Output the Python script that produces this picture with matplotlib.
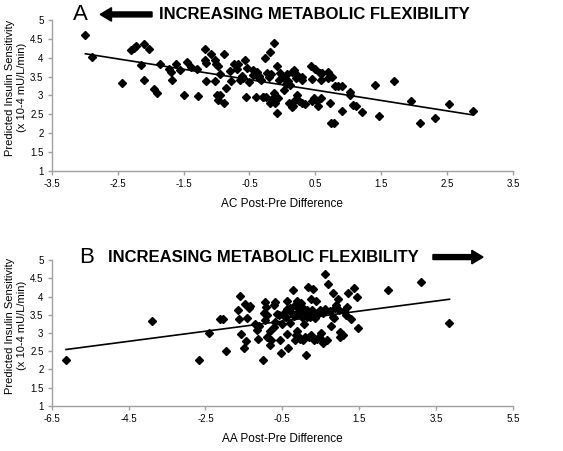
import numpy as np
import matplotlib
matplotlib.use("Agg")
import matplotlib.pyplot as plt

plt.rcParams["font.family"] = ["Liberation Sans", "DejaVu Sans"]

# panel A: AC post-pre difference vs predicted insulin sensitivity
ac_x = [-2.99, -2.89, -2.44, -2.29, -2.25, -2.22, -2.10, -2.02, -2.15, -2.10,
        -1.95, -1.91, -1.85, -1.72, -1.69, -1.67, -1.61, -1.55, -1.50, -1.45,
        -1.39, -1.28, -1.17, -1.17, -1.16, -1.16, -1.08, -1.02, -1.01, -1.02,
        -0.98, -0.99, -0.97, -0.94, -0.94, -0.89, -0.88, -0.86, -0.78, -0.73,
        -0.69, -0.68, -0.64, -0.61, -0.56, -0.55, -0.53, -0.51, -0.44, -0.40,
        -0.39, -0.36, -0.33, -0.30, -0.26, -0.25, -0.23, -0.19, -0.19, -0.17,
        -0.13, -0.13, -0.11, -0.08, -0.08, -0.06, -0.03, 0.02, 0.03, 0.07,
        0.09, 0.10, 0.12, 0.14, 0.16, 0.17, 0.19, 0.22, 0.23, 0.30,
        0.30, 0.30, 0.43, 0.45, 0.48, 0.50, 0.52, 0.54, 0.57, 0.58,
        0.58, 0.70, 0.70, 0.72, 0.74, 0.75, 0.78, 0.80, 0.85, 0.91,
        0.91, 1.03, 1.03, 1.07, 1.12, 1.21, 1.41, 1.46, 1.70, 1.96,
        2.09, 2.32, 2.53, 2.89, -0.45, -0.35, -0.20, -0.05, 0.05, 0.20,
        0.25, 0.35, -0.30, -0.15, 0.45, 0.60, -0.60, -0.80, -1.30, 0.15]
ac_y = [4.61, 4.01, 3.34, 4.19, 4.25, 4.30, 4.36, 4.22, 3.80, 3.40,
        3.17, 3.06, 3.83, 3.70, 3.61, 3.41, 3.83, 3.68, 3.02, 3.88,
        3.75, 2.99, 4.22, 3.93, 3.86, 3.38, 4.09, 3.93, 3.83, 3.38,
        3.77, 3.02, 2.89, 3.02, 3.57, 2.79, 4.10, 3.20, 3.37, 3.83,
        3.70, 3.84, 3.41, 3.52, 3.94, 2.96, 3.73, 3.36, 3.66, 2.97,
        3.63, 3.52, 3.41, 2.96, 3.98, 2.96, 3.59, 4.16, 2.80, 3.57,
        4.40, 3.06, 2.80, 3.77, 2.53, 2.92, 3.59, 3.46, 3.15, 3.57,
        3.37, 2.80, 3.28, 3.63, 2.73, 3.68, 2.89, 3.55, 3.02, 3.41,
        3.50, 2.80, 3.77, 3.43, 2.93, 3.70, 2.84, 2.71, 3.59, 3.41,
        2.93, 3.61, 3.45, 2.80, 2.27, 3.48, 2.27, 3.26, 3.26, 3.26,
        2.59, 3.02, 3.08, 2.75, 2.71, 2.55, 3.28, 2.46, 3.37, 2.86,
        2.27, 2.40, 2.78, 2.58, 3.55, 3.45, 3.50, 3.40, 3.30, 3.45,
        2.85, 2.78, 2.95, 2.90, 2.85, 3.60, 3.45, 3.65, 3.70, 2.70]

# panel B: AA post-pre difference vs predicted insulin sensitivity
aa_x = [-6.13, -3.90, -2.66, -2.41, -2.11, -2.05, -1.97, -1.66, -1.63, -1.60,
        -1.57, -1.49, -1.47, -1.44, -1.42, -1.38, -1.34, -1.22, -1.15, -1.14,
        -1.01, -0.99, -0.96, -0.94, -0.92, -0.90, -0.82, -0.83, -0.79, -0.73,
        -0.71, -0.68, -0.65, -0.56, -0.53, -0.52, -0.49, -0.40, -0.37, -0.38,
        -0.37, -0.36, -0.30, -0.21, -0.18, -0.18, -0.14, -0.12, -0.11, -0.08,
        -0.06, -0.04, -0.01, 0.01, 0.03, 0.05, 0.07, 0.11, 0.13, 0.18,
        0.20, 0.22, 0.24, 0.28, 0.31, 0.33, 0.35, 0.37, 0.48, 0.52,
        0.57, 0.61, 0.65, 0.70, 0.74, 0.77, 0.81, 0.83, 0.86, 0.90,
        0.96, 0.97, 1.00, 1.04, 1.09, 1.17, 1.22, 1.28, 1.37, 1.43,
        1.48, 2.25, 3.10, 3.85, -0.25, -0.20, -0.10, 0.00, 0.10, 0.15,
        0.20, 0.30, 0.40, -0.15, -0.05, 0.10, 0.25, 0.40, 0.45, 0.50,
        -0.45, -0.60, -0.30, 0.05, 0.35, 0.55, 0.60, 1.10, 1.15, 1.00,
        0.85, -0.70, -0.90, -1.10]
aa_y = [2.27, 3.34, 2.27, 3.00, 3.38, 3.38, 2.52, 3.62, 3.38, 4.02,
        2.98, 2.58, 3.80, 2.79, 3.41, 3.69, 3.74, 3.25, 3.09, 2.85,
        2.27, 3.56, 3.36, 3.84, 3.71, 2.89, 3.07, 2.67, 2.80, 3.16,
        3.76, 3.85, 3.52, 2.80, 2.45, 3.25, 3.50, 3.43, 2.98, 3.65,
        3.89, 2.58, 3.29, 4.18, 3.76, 2.80, 3.50, 3.87, 3.05, 3.69,
        2.89, 3.52, 3.83, 3.43, 2.80, 3.56, 3.25, 2.40, 3.62, 4.27,
        2.89, 3.43, 3.94, 3.62, 4.21, 2.82, 3.50, 3.87, 3.62, 2.80,
        2.72, 4.63, 2.82, 4.36, 3.60, 3.20, 3.43, 4.09, 3.69, 3.76,
        3.94, 3.62, 3.03, 2.96, 2.94, 3.71, 4.09, 3.38, 4.24, 4.00,
        3.14, 4.17, 4.40, 3.28, 3.55, 3.48, 3.58, 3.60, 3.50, 3.45,
        3.55, 3.48, 3.50, 2.95, 2.85, 2.90, 2.95, 2.85, 2.90, 3.00,
        3.55, 3.50, 3.70, 3.70, 3.40, 3.55, 3.65, 3.60, 3.50, 2.90,
        3.40, 3.30, 3.50, 3.20]

yticks = [1, 1.5, 2, 2.5, 3, 3.5, 4, 4.5, 5]
ac_ticks = [-3.5, -2.5, -1.5, -0.5, 0.5, 1.5, 2.5, 3.5]
aa_ticks = [-6.5, -4.5, -2.5, -0.5, 1.5, 3.5, 5.5]

GREY = "#a0a0a0"


def tick_fmt(v):
    return ("%g" % v)


def panel(ax, x, y, xticks, xlabel):
    x = np.array(x)
    y = np.array(y)
    ax.plot(x, y, "D", color="black", ms=3.8, mec="black")
    slope, icpt = np.polyfit(x, y, 1)
    xs = np.array([x.min(), x.max()])
    ax.plot(xs, slope * xs + icpt, color="black", lw=1.2)

    ax.set_xlim(xticks[0], xticks[-1])
    ax.set_ylim(1, 5)
    ax.set_xticks(xticks)
    ax.set_xticklabels([tick_fmt(t) for t in xticks])
    ax.set_yticks(yticks)
    ax.set_yticklabels([tick_fmt(t) for t in yticks])
    for s in ["top", "right"]:
        ax.spines[s].set_visible(False)
    for s in ["left", "bottom"]:
        ax.spines[s].set_color(GREY)
        ax.spines[s].set_linewidth(1.0)
    ax.tick_params(length=3, width=1, color=GREY, labelsize=7, pad=3)
    ax.set_xlabel(xlabel, fontsize=8.5, labelpad=6)
    ax.set_ylabel("Predicted Insulin Sensitivity\n(x 10-4 mU/L/min)",
                  fontsize=8, linespacing=1.25)
    ax.yaxis.set_label_coords(-0.054, 0.55)


fig = plt.figure(figsize=(5.63, 4.51), dpi=100)
axA = fig.add_axes([0.092, 0.621, 0.819, 0.335])
axB = fig.add_axes([0.092, 0.100, 0.819, 0.323])

panel(axA, ac_x, ac_y, ac_ticks, "AC Post-Pre Difference")
panel(axB, aa_x, aa_y, aa_ticks, "AA Post-Pre Difference")

# panel letters, headings and arrows
fig.text(0.142, 0.968, "A", fontsize=16, va="center", ha="center")
fig.text(0.558, 0.968, "INCREASING METABOLIC FLEXIBILITY", fontsize=12,
         fontweight="heavy", va="center", ha="center")
fig.patches.append(matplotlib.patches.FancyArrow(
    0.27, 0.968, -0.092, 0, width=0.011, head_width=0.03, head_length=0.02,
    color="black", transform=fig.transFigure, figure=fig,
    length_includes_head=True))

fig.text(0.153, 0.43, "B", fontsize=16, va="center", ha="center")
fig.text(0.468, 0.43, "INCREASING METABOLIC FLEXIBILITY", fontsize=12,
         fontweight="heavy", va="center", ha="center")
fig.patches.append(matplotlib.patches.FancyArrow(
    0.769, 0.43, 0.089, 0, width=0.011, head_width=0.03, head_length=0.02,
    color="black", transform=fig.transFigure, figure=fig,
    length_includes_head=True))

fig.savefig("out.png", dpi=100)
